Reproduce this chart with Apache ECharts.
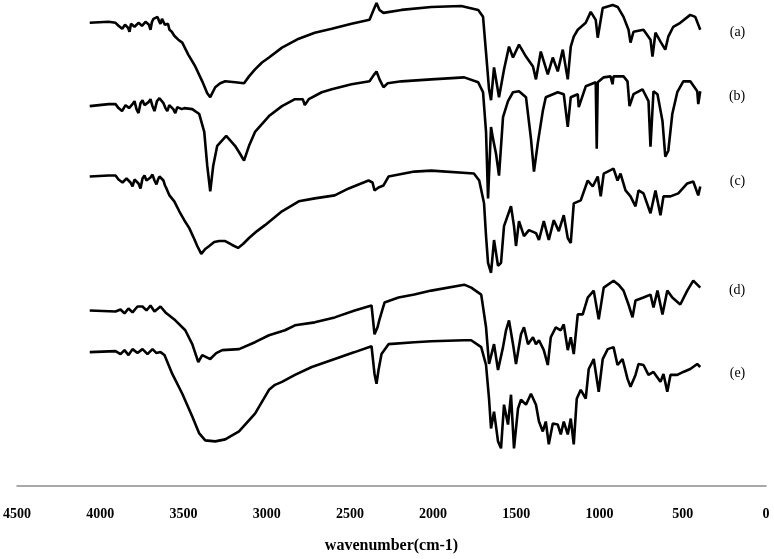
<!DOCTYPE html>
<html>
<head>
<meta charset="utf-8">
<script src="https://cdn.jsdelivr.net/npm/echarts@6/dist/echarts.min.js"></script>
<style>html,body{margin:0;padding:0;background:#fff}#c{width:774px;height:559px}</style>
</head>
<body>
<div id="c"></div>
<script>
// FTIR spectra: [wavenumber (cm-1), offset transmittance (arb. units)]
const seriesNames = ['(a)', '(b)', '(c)', '(d)', '(e)'];
const xTicks = [4500, 4000, 3500, 3000, 2500, 2000, 1500, 1000, 500, 0];

const specA = [[4063,467],[3950,468],[3908,467],[3890,464],[3878,465],[3868,461],[3860,460],[3851,465],[3842,466],[3833,462],[3824,458],[3815,466],[3806,468],[3794,463],[3782,462],[3770,467],[3758,469],[3749,464],[3740,463],[3728,468],[3716,470],[3707,465],[3698,460],[3689,468],[3680,471],[3668,469],[3656,473],[3647,469],[3638,466],[3629,471],[3620,470],[3611,465],[3602,463],[3593,466],[3584,460],[3570,458],[3555,454],[3531,450],[3507,447],[3471,435],[3429,423],[3387,408],[3357,396],[3339,392],[3309,402],[3279,406],[3249,408],[3189,407],[3136,406],[3106,413],[3070,420],[3028,427],[2986,432],[2908,442],[2807,451],[2711,457],[2609,461],[2490,466],[2382,470],[2358,480],[2340,487],[2322,480],[2298,477],[2190,480],[2011,483],[1831,484],[1729,480],[1700,473],[1682,437],[1664,400],[1652,389],[1634,422],[1622,423],[1604,392],[1574,420],[1544,443],[1520,432],[1484,445],[1442,433],[1400,423],[1382,410],[1353,438],[1311,415],[1281,432],[1251,418],[1221,440],[1191,410],[1173,443],[1155,453],[1131,460],[1083,467],[1053,478],[1023,470],[1011,452],[981,482],[921,485],[891,483],[856,473],[826,460],[814,447],[796,458],[736,460],[694,450],[682,433],[664,457],[634,448],[605,440],[587,453],[557,463],[515,467],[455,475],[425,473],[395,460]];

const specB = [[4063,383],[3950,385],[3908,385],[3890,381],[3878,382],[3869,378],[3860,377],[3848,384],[3836,386],[3827,381],[3818,380],[3806,385],[3794,388],[3782,380],[3770,376],[3758,386],[3746,389],[3734,384],[3722,382],[3710,387],[3698,390],[3686,383],[3674,378],[3659,388],[3644,391],[3632,389],[3620,386],[3608,381],[3597,378],[3585,384],[3573,386],[3561,380],[3549,376],[3537,382],[3525,384],[3510,380],[3495,381],[3447,380],[3405,375],[3375,357],[3357,323],[3339,297],[3321,323],[3297,343],[3243,353],[3190,343],[3160,335],[3136,328],[3106,343],[3070,357],[2986,373],[2908,383],[2830,390],[2783,390],[2771,384],[2747,390],[2669,397],[2609,400],[2490,405],[2382,408],[2358,414],[2340,418],[2322,410],[2298,402],[2274,406],[2190,408],[2011,410],[1813,412],[1729,407],[1700,397],[1682,357],[1670,290],[1652,362],[1640,350],[1622,335],[1604,313],[1580,372],[1550,388],[1520,397],[1484,398],[1442,392],[1412,350],[1394,317],[1370,347],[1341,378],[1323,392],[1251,397],[1215,395],[1191,362],[1173,392],[1131,395],[1125,382],[1083,403],[1023,407],[1017,340],[1011,407],[975,412],[934,413],[922,405],[916,413],[856,413],[832,408],[820,383],[796,395],[742,400],[706,388],[694,342],[676,398],[652,395],[622,368],[605,332],[587,338],[563,375],[533,397],[497,408],[455,408],[413,398],[407,385],[395,398]];

const specC = [[4063,312],[3950,313],[3908,313],[3890,309],[3878,310],[3866,306],[3854,304],[3842,310],[3830,312],[3818,306],[3806,302],[3794,309],[3782,311],[3770,305],[3758,300],[3746,310],[3734,313],[3722,308],[3710,306],[3698,311],[3686,314],[3674,308],[3662,304],[3653,309],[3644,312],[3632,311],[3620,308],[3611,303],[3602,300],[3584,293],[3555,287],[3525,277],[3495,268],[3465,260],[3435,249],[3417,242],[3393,234],[3369,239],[3345,242],[3315,246],[3285,247],[3249,247],[3207,243],[3172,240],[3142,244],[3106,250],[3058,257],[3010,263],[2908,277],[2807,287],[2711,290],[2591,293],[2507,300],[2388,308],[2364,306],[2352,298],[2328,301],[2298,303],[2268,312],[2113,317],[2011,318],[1755,315],[1723,308],[1694,285],[1682,252],[1670,225],[1652,215],[1634,248],[1610,222],[1592,225],[1574,262],[1532,282],[1514,262],[1502,242],[1484,267],[1454,252],[1424,258],[1382,255],[1364,248],[1335,267],[1305,248],[1275,268],[1245,257],[1215,273],[1191,250],[1173,245],[1155,285],[1113,288],[1071,308],[1041,302],[1011,312],[993,292],[975,315],[916,320],[892,308],[874,315],[844,298],[814,292],[784,282],[766,298],[736,295],[694,275],[664,298],[634,273],[616,292],[574,292],[527,295],[473,305],[437,307],[407,293],[395,302]];

const specD = [[4063,177],[3908,176],[3878,178],[3854,174],[3830,179],[3806,175],[3776,181],[3746,181],[3722,177],[3698,182],[3674,176],[3638,181],[3608,175],[3549,167],[3489,157],[3447,143],[3411,125],[3387,132],[3363,130],[3339,128],[3303,134],[3267,137],[3166,138],[3070,145],[2986,152],[2890,157],[2830,162],[2711,165],[2591,170],[2471,177],[2370,182],[2352,153],[2334,160],[2322,168],[2292,185],[2208,190],[2113,193],[2011,197],[1813,203],[1771,200],[1711,193],[1682,160],[1664,123],[1634,143],[1610,117],[1580,140],[1562,157],[1544,167],[1520,143],[1502,123],[1472,153],[1454,160],[1430,143],[1400,150],[1382,143],[1364,147],[1335,137],[1311,122],[1293,150],[1263,160],[1233,157],[1215,163],[1191,137],[1173,150],[1155,133],[1131,173],[1101,173],[1071,190],[1035,197],[1005,168],[975,200],[916,207],[886,203],[856,197],[826,183],[802,170],[784,187],[736,190],[694,193],[676,180],[652,197],[622,173],[593,197],[563,190],[515,183],[473,197],[437,207],[395,200]];

const specE = [[4063,135],[3908,136],[3878,133],[3854,137],[3830,132],[3806,138],[3776,134],[3746,138],[3716,133],[3686,138],[3662,134],[3638,135],[3614,132],[3567,113],[3507,93],[3447,70],[3405,53],[3369,46],[3309,45],[3249,47],[3166,55],[3070,73],[2986,97],[2950,102],[2908,105],[2830,112],[2729,120],[2591,128],[2471,135],[2370,141],[2352,113],[2340,103],[2328,117],[2310,133],[2268,143],[2113,145],[2011,146],[1813,147],[1771,147],[1711,140],[1682,122],[1664,88],[1652,58],[1634,75],[1610,45],[1592,38],[1574,82],[1550,62],[1532,92],[1514,38],[1490,78],[1472,87],[1442,82],[1412,93],[1382,82],[1364,65],[1341,55],[1323,65],[1305,42],[1281,63],[1251,62],[1233,52],[1215,65],[1191,52],[1173,68],[1155,42],[1137,88],[1113,97],[1083,88],[1065,118],[1035,128],[1005,95],[981,128],[951,138],[916,140],[892,122],[862,128],[832,108],[814,100],[784,112],[766,123],[736,122],[706,112],[676,115],[634,105],[616,113],[593,95],[574,112],[533,112],[497,115],[455,118],[413,123],[395,120]];

const spectra = [specA, specB, specC, specD, specE];
const labelNudge = [3, 5, -5, 3, 6];
const serif = "'Liberation Serif','Times New Roman',serif";

const chart = echarts.init(document.getElementById('c'), null, {renderer: 'canvas'});
chart.setOption({
  animation: false,
  backgroundColor: '#fff',
  grid: {left: 14, right: 8, top: 0, bottom: 69, containLabel: false},
  xAxis: {
    type: 'value', min: 0, max: 4500, interval: 500, inverse: true,
    axisLine: {show: true, lineStyle: {color: '#8c8c8c', width: 1.5}},
    axisTick: {show: false},
    splitLine: {show: false},
    axisLabel: {
      color: '#000', fontFamily: serif, fontWeight: 'bold', fontSize: 14, margin: 21,
      formatter: v => xTicks.includes(v) ? String(v) : ''
    },
    name: 'wavenumber(cm-1)', nameLocation: 'middle', nameGap: 52,
    nameTextStyle: {color: '#000', fontFamily: serif, fontWeight: 'bold', fontSize: 16}
  },
  yAxis: {type: 'value', min: 0, max: 490, show: false, splitLine: {show: false}},
  series: spectra.map((d, i) => ({
    name: seriesNames[i], type: 'line', data: d, showSymbol: false, smooth: false,
    lineStyle: {color: '#000', width: 2.6},
    endLabel: {show: true, formatter: seriesNames[i], distance: 28, offset: [73, labelNudge[i]],
      color: '#000', fontFamily: serif, fontSize: 14}
  }))
});
</script>
</body>
</html>
